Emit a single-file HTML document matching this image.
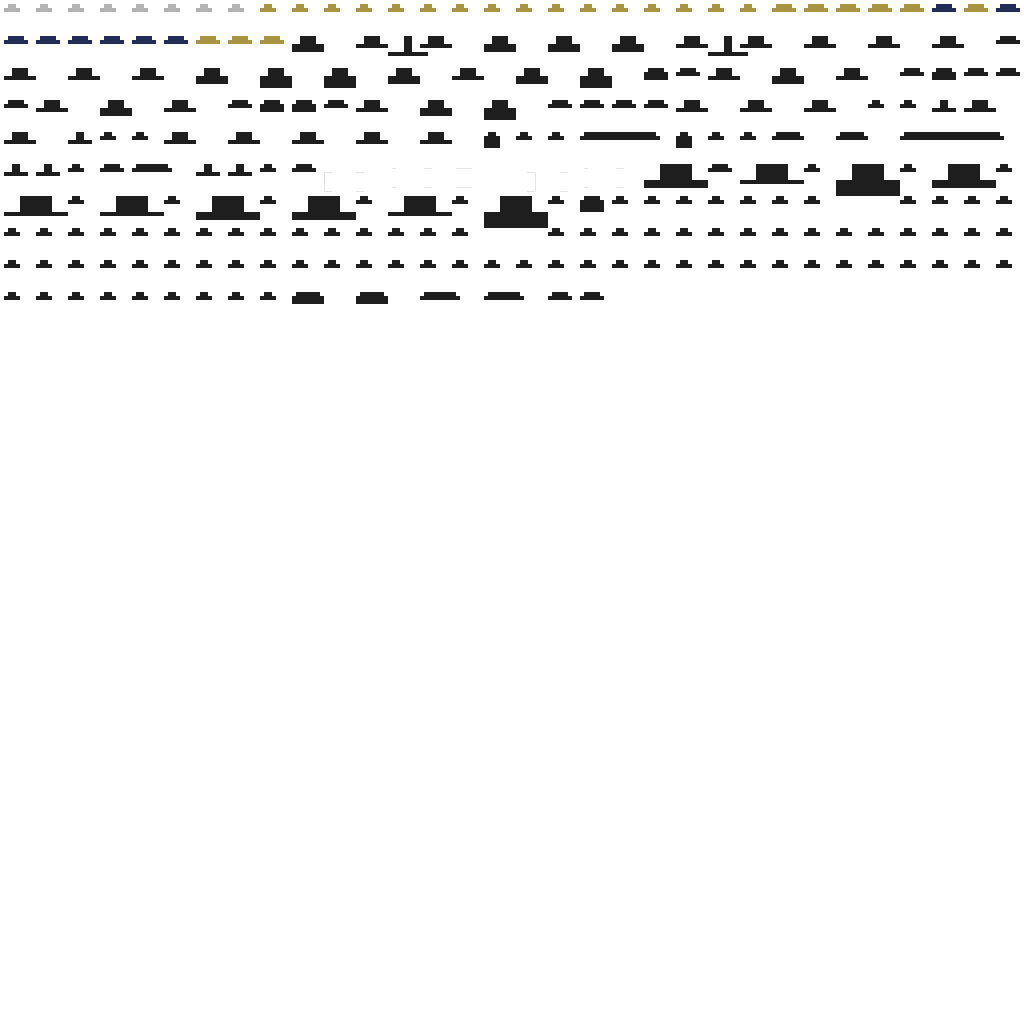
<!DOCTYPE html>
<html><head><meta charset="utf-8"><style>
html,body{margin:0;padding:0;background:#fff;width:1024px;height:1024px;overflow:hidden;position:relative}
div.r{position:absolute}
</style></head><body>
<script>
var K='#1e1e1e',G='#b4b4b4',Y='#a89440',N='#212d55',L='#e6e6e6';
function R(x,y,w,h,c){var d=document.createElement('div');d.className='r';d.style.cssText='left:'+x+'px;top:'+y+'px;width:'+w+'px;height:'+h+'px;background:'+c;document.body.appendChild(d);}
function S(row,cell,bw,tw,th,bh,c){var x=4+32*cell,y=4+32*row;R(x+(bw-tw)/2,y,tw,th,c||K);R(x,y+th,bw,bh,c||K);}
var i;
// row 0
for(i=0;i<8;i++)S(0,i,16,8,4,4,G);
for(i=8;i<24;i++)S(0,i,16,8,4,4,Y);
for(i=24;i<29;i++)S(0,i,24,16,4,4,Y);
S(0,29,24,16,4,4,N);S(0,30,24,16,4,4,Y);S(0,31,24,16,4,4,N);
// row 1
for(i=0;i<6;i++)S(1,i,24,16,4,4,N);
for(i=6;i<9;i++)S(1,i,24,16,4,4,Y);
[[9,32,16,8,8],[11,32,16,8,4],[12,40,8,16,4],[13,32,16,8,4],[15,32,16,8,8],[17,32,16,8,8],[19,32,16,8,8],[21,32,16,8,4],[22,40,8,16,4],[23,32,16,8,4],[25,32,16,8,4],[27,32,16,8,4],[29,32,16,8,4],[31,24,16,4,4]].forEach(function(a){S(1,a[0],a[1],a[2],a[3],a[4]);});
// row 2
[[0,32,16,8,4],[2,32,16,8,4],[4,32,16,8,4],[6,32,16,8,8],[8,32,16,8,12],[10,32,16,8,12],[12,32,16,8,8],[14,32,16,8,4],[16,32,16,8,8],[18,32,16,8,12],[20,24,16,4,8],[21,24,16,4,4],[22,32,16,8,4],[24,32,16,8,8],[26,32,16,8,4],[28,24,16,4,4],[29,24,16,4,8],[30,24,16,4,4],[31,24,16,4,4]].forEach(function(a){S(2,a[0],a[1],a[2],a[3],a[4]);});
// row 3
[[0,24,16,4,4],[1,32,16,8,4],[3,32,16,8,8],[5,32,16,8,4],[7,24,16,4,4],[8,24,16,4,8],[9,24,16,4,8],[10,24,16,4,4],[11,32,16,8,4],[13,32,16,8,8],[15,32,16,8,12],[17,24,16,4,4],[18,24,16,4,4],[19,24,16,4,4],[20,24,16,4,4],[21,32,16,8,4],[23,32,16,8,4],[25,32,16,8,4],[27,16,8,4,4],[28,16,8,4,4],[29,24,8,8,4],[30,32,16,8,4]].forEach(function(a){S(3,a[0],a[1],a[2],a[3],a[4]);});
// row 4
[[0,32,16,8,4],[2,24,8,8,4],[3,16,8,4,4],[4,16,8,4,4],[5,32,16,8,4],[7,32,16,8,4],[9,32,16,8,4],[11,32,16,8,4],[13,32,16,8,4],[15,16,8,4,12],[16,16,8,4,4],[17,16,8,4,4],[18,80,72,4,4],[21,16,8,4,12],[22,16,8,4,4],[23,16,8,4,4],[24,32,24,4,4],[26,32,24,4,4],[28,104,96,4,4]].forEach(function(a){S(4,a[0],a[1],a[2],a[3],a[4]);});
// row 5
[[0,24,8,8,4],[1,24,8,8,4],[2,16,8,4,4],[3,24,16,4,4],[4,40,32,4,4],[6,24,8,8,4],[7,24,8,8,4],[8,16,8,4,4],[9,24,16,4,4],[20,64,32,16,8],[22,24,16,4,4],[23,64,32,16,4],[25,16,8,4,4],[26,64,32,16,16],[28,16,8,4,4],[29,64,32,16,8],[31,16,8,4,4]].forEach(function(a){S(5,a[0],a[1],a[2],a[3],a[4]);});
// row 6
[[0,64,32,16,4],[2,16,8,4,4],[3,64,32,16,4],[5,16,8,4,4],[6,64,32,16,8],[8,16,8,4,4],[9,64,32,16,8],[11,16,8,4,4],[12,64,32,16,4],[14,16,8,4,4],[15,64,32,16,16],[17,16,8,4,4],[18,24,16,4,12],[19,16,8,4,4],[20,16,8,4,4],[21,16,8,4,4],[22,16,8,4,4],[23,16,8,4,4],[24,16,8,4,4],[25,16,8,4,4],[28,16,8,4,4],[29,16,8,4,4],[30,16,8,4,4],[31,16,8,4,4]].forEach(function(a){S(6,a[0],a[1],a[2],a[3],a[4]);});
// row 7
for(i=0;i<32;i++){if(i==15||i==16)continue;S(7,i,16,8,4,4);}
// row 8
for(i=0;i<32;i++)S(8,i,16,8,4,4);
// row 9
for(i=0;i<9;i++)S(9,i,16,8,4,4);
[[9,32,24,4,8],[11,32,24,4,8],[13,40,32,4,4],[15,40,32,4,4],[17,24,16,4,4],[18,24,16,4,4]].forEach(function(a){S(9,a[0],a[1],a[2],a[3],a[4]);});
// faint ghost lines
R(324,172,1,20,L);R(324,172,8,1,L);R(324,191,8,1,L);
R(356,172,8,1,L);R(356,191,8,1,L);
R(392,168,4,1,L);R(392,187,4,1,L);
R(424,168,8,1,L);R(424,187,8,1,L);
R(456,168,16,1,L);R(456,187,16,1,L);
R(535,172,1,20,L);R(527,172,8,1,L);R(527,191,8,1,L);
R(560,172,8,1,L);R(560,191,8,1,L);
R(584,168,4,1,L);R(584,187,4,1,L);
R(616,168,8,1,L);R(616,187,8,1,L);
</script>
</body></html>
